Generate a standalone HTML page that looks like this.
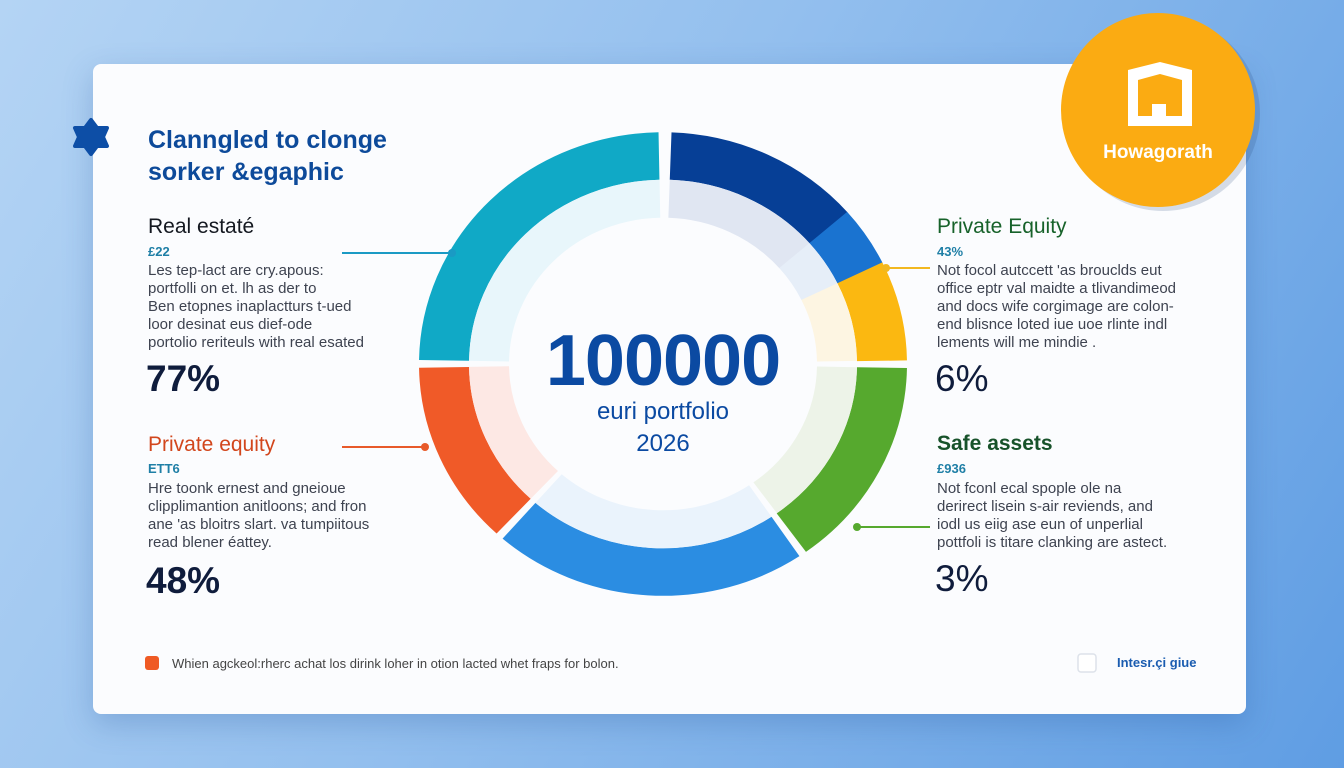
<!DOCTYPE html>
<html><head><meta charset="utf-8"><style>
*{margin:0;padding:0;box-sizing:border-box}
body{width:1344px;height:768px;overflow:hidden;font-family:"Liberation Sans",Arial,sans-serif;background:linear-gradient(120deg,#b4d4f4 0%,#93bfee 45%,#5f9de3 100%);position:relative}
.card{position:absolute;left:93px;top:64px;width:1153px;height:650px;background:#fbfcfe;border-radius:8px;box-shadow:0 10px 30px rgba(30,80,150,.25)}
.t{position:absolute;white-space:nowrap}
.h{font-size:21px;color:#141820}
.s{font-size:13px;font-weight:bold;color:#1f7fa6}
.b{font-size:15px;line-height:18px;color:#3e4350}
.p{font-size:37px;font-weight:bold;color:#0f1c3c}
</style></head><body>
<div class="card"></div>
<svg style="position:absolute;left:0;top:0" width="1344" height="768">
<polygon points="91,120 97,128 107,128 103,137 107,146 97,146 91,154 85,146 75,146 79,137 75,128 85,128" fill="#0d4ea6" stroke="#0d4ea6" stroke-width="4" stroke-linejoin="round"/>
<g transform="translate(663,364) scale(1,0.95)" fill="none">
<circle r="219" stroke="#10a9c6" stroke-width="50" stroke-dasharray="336 2000" transform="rotate(181)"/>
<circle r="219" stroke="#063f96" stroke-width="50" stroke-dasharray="180 2000" transform="rotate(-88)"/>
<circle r="219" stroke="#1a73d0" stroke-width="50" stroke-dasharray="58 2000" transform="rotate(-41)"/>
<circle r="219" stroke="#fbb811" stroke-width="50" stroke-dasharray="96 2000" transform="rotate(-26)"/>
<circle r="219" stroke="#56a92e" stroke-width="50" stroke-dasharray="203 2000" transform="rotate(1)"/>
<circle r="219" stroke="#2b8de2" stroke-width="50" stroke-dasharray="287 2000" transform="rotate(56)"/>
<circle r="219" stroke="#f05a28" stroke-width="50" stroke-dasharray="176 2000" transform="rotate(133)"/>
<circle r="174" stroke="#e8f6fb" stroke-width="40" stroke-dasharray="267 2000" transform="rotate(181)"/>
<circle r="174" stroke="#e0e6f2" stroke-width="40" stroke-dasharray="143 2000" transform="rotate(-88)"/>
<circle r="174" stroke="#e6eef8" stroke-width="40" stroke-dasharray="46 2000" transform="rotate(-41)"/>
<circle r="174" stroke="#fdf5e2" stroke-width="40" stroke-dasharray="76 2000" transform="rotate(-26)"/>
<circle r="174" stroke="#edf3e8" stroke-width="40" stroke-dasharray="161 2000" transform="rotate(1)"/>
<circle r="174" stroke="#eaf3fc" stroke-width="40" stroke-dasharray="228 2000" transform="rotate(56)"/>
<circle r="174" stroke="#fde8e4" stroke-width="40" stroke-dasharray="140 2000" transform="rotate(133)"/>
</g>
<line x1="342" y1="253" x2="452" y2="253" stroke="#1a9ac4" stroke-width="2"/><circle cx="452" cy="253" r="4" fill="#1a9ac4"/>
<line x1="342" y1="447" x2="425" y2="447" stroke="#e85a2a" stroke-width="2"/><circle cx="425" cy="447" r="4" fill="#e85a2a"/>
<line x1="886" y1="268" x2="930" y2="268" stroke="#f2b820" stroke-width="2"/><circle cx="886" cy="268" r="4" fill="#f2b820"/>
<line x1="857" y1="527" x2="930" y2="527" stroke="#56a92e" stroke-width="2"/><circle cx="857" cy="527" r="4" fill="#56a92e"/>
<circle cx="1163" cy="114" r="97" fill="rgba(40,70,120,.18)"/>
<circle cx="1158" cy="110" r="97" fill="#fbab12"/>
<path d="M1128 70 L1160 62 L1192 70 L1192 126 L1128 126 Z M1138 80 L1138 116 L1152 116 L1152 104 L1166 104 L1166 116 L1182 116 L1182 80 L1160 74 Z" fill="#fff" fill-rule="evenodd"/>
<rect x="145" y="656" width="14" height="14" rx="3" fill="#ef5a24"/>
<rect x="1078" y="654" width="18" height="18" rx="3" fill="#fff" stroke="#dde2ea" stroke-width="1.5"/>
</svg>
<div class="t" style="left:1158px;top:142px;transform:translateX(-50%);font-size:19px;font-weight:bold;color:#fff">Howagorath</div>
<div class="t" style="left:148px;top:124px;font-size:25px;font-weight:bold;color:#0d4a9a;line-height:32px">Clanngled to clonge<br>sorker &amp;egaphic</div>

<div class="t h" style="left:148px;top:215px">Real estaté</div>
<div class="t s" style="left:148px;top:244px">£22</div>
<div class="t b" style="left:148px;top:262px">Les tep-lact are cry.apous:<br>portfolli on et. lh as der to<br>Ben etopnes inaplactturs t-ued<br>loor desinat eus dief-ode<br>portolio reriteuls with real esated</div>
<div class="t p" style="left:146px;top:358px">77%</div>

<div class="t h" style="left:148px;top:433px;color:#d2461c">Private equity</div>
<div class="t s" style="left:148px;top:461px">ETT6</div>
<div class="t b" style="left:148px;top:480px">Hre toonk ernest and gneioue<br>clipplimantion anitloons; and fron<br>ane 'as bloitrs slart. va tumpiitous<br>read blener éattey.</div>
<div class="t p" style="left:146px;top:560px">48%</div>

<div class="t h" style="left:937px;top:215px;color:#17622a">Private Equity</div>
<div class="t s" style="left:937px;top:244px">43%</div>
<div class="t b" style="left:937px;top:262px">Not focol autccett 'as brouclds eut<br>office eptr val maidte a tlivandimeod<br>and docs wife corgimage are colon-<br>end blisnce loted iue uoe rlinte indl<br>lements will me mindie .</div>
<div class="t p" style="left:935px;top:358px;font-weight:normal">6%</div>

<div class="t h" style="left:937px;top:432px;color:#17522a;font-weight:bold">Safe assets</div>
<div class="t s" style="left:937px;top:461px">£936</div>
<div class="t b" style="left:937px;top:480px">Not fconl ecal spople ole na<br>derirect lisein s-air reviends, and<br>iodl us eiig ase eun of unperlial<br>pottfoli is titare clanking are astect.</div>
<div class="t p" style="left:935px;top:558px;font-weight:normal">3%</div>

<div class="t" style="left:663px;top:320px;transform:translateX(-50%);font-size:72px;font-weight:bold;color:#0b4aa2;letter-spacing:-1px">100000</div>
<div class="t" style="left:663px;top:398px;transform:translateX(-50%);font-size:24px;color:#0b4aa2">euri portfolio</div>
<div class="t" style="left:663px;top:430px;transform:translateX(-50%);font-size:24px;color:#0b4aa2">2026</div>

<div class="t" style="left:172px;top:656px;font-size:13px;color:#444">Whien agckeol:rherc achat los dirink loher in otion lacted whet fraps for bolon.</div>
<div class="t" style="left:1117px;top:655px;font-size:13px;font-weight:bold;color:#1a5cb0">Intesr.çi giue</div>
</body></html>
